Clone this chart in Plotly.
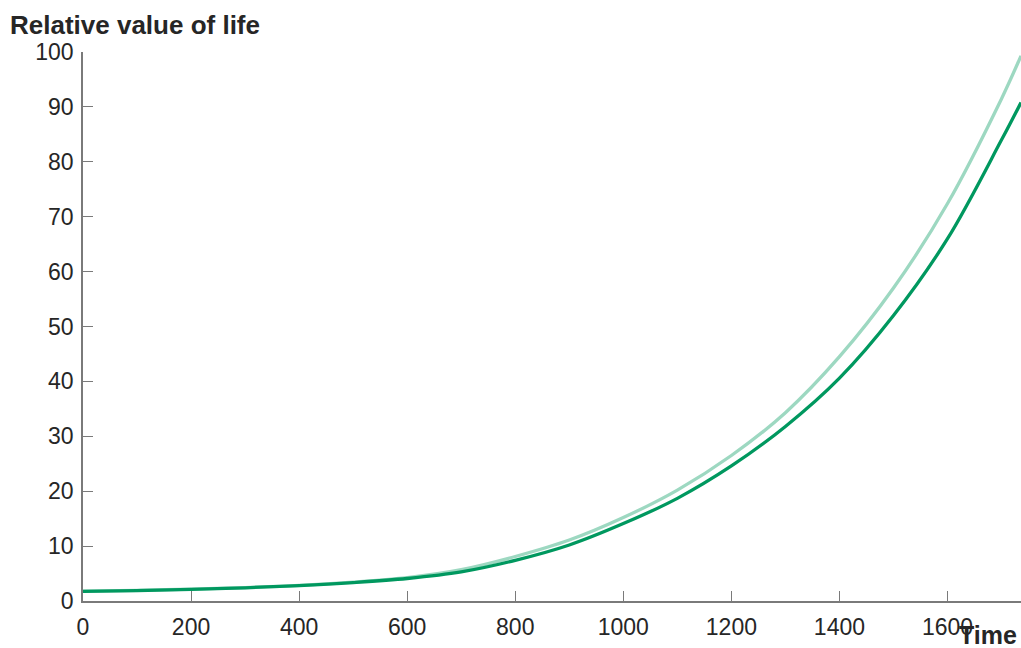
import plotly.graph_objects as go

time = [0, 100, 200, 300, 400, 500, 600, 700, 800, 900, 1000, 1100, 1200, 1300, 1400, 1500, 1600, 1700, 1736]
value_light = [1.8, 1.95, 2.15, 2.45, 2.85, 3.45, 4.25, 5.7, 8.1, 11.1, 15.2, 20.2, 26.5, 34.3, 44.5, 57.0, 72.4, 91.5, 99.3]
value_dark = [1.75, 1.9, 2.1, 2.4, 2.8, 3.35, 4.1, 5.3, 7.4, 10.2, 14.1, 18.7, 24.6, 31.8, 40.6, 52.0, 66.0, 84.0, 90.8]

x_ticks = [0, 200, 400, 600, 800, 1000, 1200, 1400, 1600]
y_ticks = [0, 10, 20, 30, 40, 50, 60, 70, 80, 90, 100]

LIGHT = "#9dd8c1"
DARK = "#00985f"
TEXT = "#262626"
AXIS = "#7a7a7a"
FONT = "Liberation Sans, Arial, sans-serif"

fig = go.Figure()
fig.add_trace(go.Scatter(x=time, y=value_light, mode="lines",
                         line=dict(color=LIGHT, width=3.3, shape="spline"),
                         showlegend=False, hoverinfo="skip"))
fig.add_trace(go.Scatter(x=time, y=value_dark, mode="lines",
                         line=dict(color=DARK, width=3.3, shape="spline"),
                         showlegend=False, hoverinfo="skip"))

fig.update_layout(
    width=1021, height=648,
    margin=dict(l=83, r=0, t=52, b=47),
    paper_bgcolor="white", plot_bgcolor="white",
    font=dict(family=FONT, size=23, color=TEXT),
    xaxis=dict(range=[0, 1736], tickvals=x_ticks, ticktext=[str(v) for v in x_ticks],
               showgrid=False, zeroline=False, showline=True, linecolor=AXIS, linewidth=1.5,
               ticks="inside", ticklen=10, tickcolor=AXIS, tickwidth=1.2,
               ticklabelstandoff=5,
               tickfont=dict(family=FONT, size=23, color=TEXT)),
    yaxis=dict(range=[0, 100], tickvals=y_ticks, ticktext=[str(v) for v in y_ticks],
               showgrid=False, zeroline=False, showline=True, linecolor=AXIS, linewidth=1.5,
               ticks="inside", ticklen=10, tickcolor=AXIS, tickwidth=1.2,
               ticklabelstandoff=3,
               tickfont=dict(family=FONT, size=23, color=TEXT)),
    annotations=[
        dict(text="<b>Relative value of life</b>", xref="paper", yref="paper",
             x=-0.08, y=1.05, xanchor="left", yanchor="middle", showarrow=False,
             font=dict(family=FONT, size=26, color=TEXT)),
        dict(text="<b>Time</b>", xref="paper", yref="paper",
             x=0.998, y=-0.062, xanchor="right", yanchor="middle", showarrow=False,
             font=dict(family=FONT, size=25, color=TEXT)),
    ],
)

fig.write_html("out.html", config={"displayModeBar": False},
               post_script="document.body.style.margin='0';document.body.style.overflow='hidden';")
